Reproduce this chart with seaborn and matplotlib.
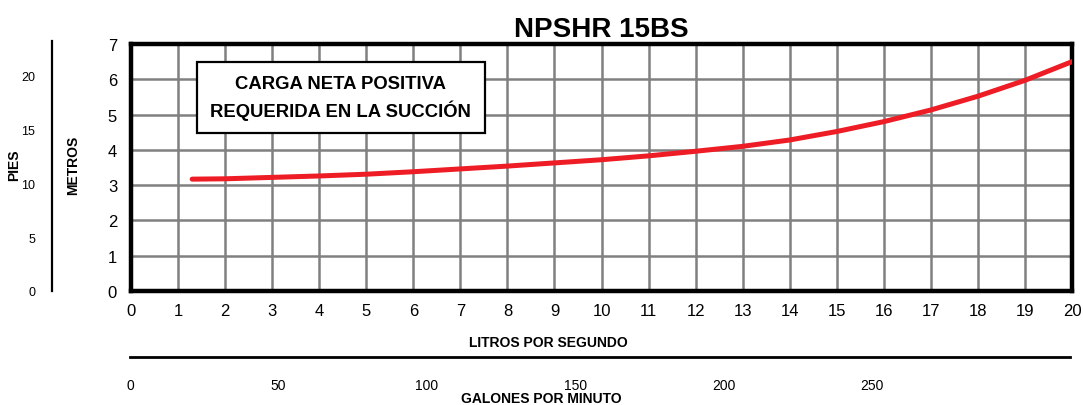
import matplotlib
matplotlib.use("Agg")
import matplotlib.pyplot as plt
import pandas as pd
import seaborn as sns

# NPSHR curve
litros = [1.3, 2, 3, 4, 5, 6, 7, 8, 9, 10, 11, 12, 13, 14, 15, 16, 17, 18, 19, 20]
metros = [3.17, 3.18, 3.22, 3.26, 3.31, 3.38, 3.46, 3.54, 3.63, 3.72, 3.83, 3.96,
          4.10, 4.28, 4.52, 4.80, 5.13, 5.52, 5.97, 6.50]
x_ticks = list(range(0, 21))
y_ticks = list(range(0, 8))
pies_ticks = [0, 5, 10, 15, 20]
gpm_ticks = [0, 50, 100, 150, 200, 250]

M_TO_FT = 3.28084
LPS_TO_GPM = 15.85

sns.set_style("white")
plt.rcParams['font.family'] = ['Liberation Sans', 'DejaVu Sans']
plt.rcParams['text.color'] = 'black'
plt.rcParams['xtick.color'] = 'black'
plt.rcParams['ytick.color'] = 'black'

fig = plt.figure(figsize=(10.83, 4.06), dpi=100)
W, H = 1083, 406
left, right, top, bottom = 131 / W, 1072 / W, 1 - 45 / H, 1 - 292 / H
ax = fig.add_axes([left, bottom, right - left, top - bottom])

df = pd.DataFrame({'lps': litros, 'm': metros})
sns.lineplot(data=df, x='lps', y='m', ax=ax, color='#ee1c25', linewidth=3.6, zorder=3)

ax.set_xlim(0, 20)
ax.set_ylim(0, 7)
ax.set_xticks(x_ticks)
ax.set_yticks(y_ticks)
ax.tick_params(axis='both', labelsize=12, length=4, width=1, color='#555555',
               labelcolor='black', direction='out')
ax.tick_params(axis='x', pad=5)
ax.tick_params(axis='y', pad=6)
ax.grid(True, color='#808080', linewidth=1.8)
ax.set_axisbelow(True)
for s in ax.spines.values():
    s.set_visible(True)
    s.set_color('black')
    s.set_linewidth(3.2)
ax.set_xlabel('')
ax.set_ylabel('')

ax.set_title('NPSHR 15BS', fontsize=20, fontweight='bold', pad=6, color='black')

ax.text(4.46, 5.49, 'CARGA NETA POSITIVA\nREQUERIDA EN LA SUCCIÓN', ha='center', va='center',
        fontsize=13.3, fontweight='bold', linespacing=1.45, zorder=5,
        bbox=dict(boxstyle='square,pad=0.72', fc='white', ec='black', lw=1.6))

# PIES axis
axp = fig.add_axes([52 / W, bottom, 0.0001, (292 - 42) / H])
axp.set_ylim(0, (292 - 42) / (247 / 7) * M_TO_FT)
axp.set_yticks(pies_ticks)
axp.set_xticks([])
for k in ['top', 'right', 'bottom']:
    axp.spines[k].set_visible(False)
axp.spines['left'].set_linewidth(1.6)
axp.spines['left'].set_color('black')
axp.tick_params(axis='y', labelsize=9, length=4, width=1, direction='out', pad=8)
axp.patch.set_alpha(0)

fig.text(14 / W, 1 - 165 / H, 'PIES', rotation=90, ha='center', va='center',
         fontsize=10, fontweight='bold')
fig.text(73 / W, 1 - 165 / H, 'METROS', rotation=90, ha='center', va='center',
         fontsize=10, fontweight='bold')

# GALONES axis
axg = fig.add_axes([130 / W, 1 - 358 / H, (1070 - 130) / W, 0.0001])
axg.set_xlim(0, (1070 - 130) / ((1072 - 131) / 20) * LPS_TO_GPM)
axg.set_xticks(gpm_ticks)
axg.set_yticks([])
for k in ['top', 'right', 'left']:
    axg.spines[k].set_visible(False)
axg.spines['bottom'].set_linewidth(2)
axg.spines['bottom'].set_color('black')
axg.tick_params(axis='x', labelsize=10, length=4, width=1, direction='out', pad=11)
axg.patch.set_alpha(0)

fig.text(548 / W, 1 - 343 / H, 'LITROS POR SEGUNDO', ha='center', va='center',
         fontsize=10, fontweight='bold')
fig.text(541 / W, 1 - 399 / H, 'GALONES POR MINUTO', ha='center', va='center',
         fontsize=10, fontweight='bold')

fig.savefig('out.png', dpi=100)
